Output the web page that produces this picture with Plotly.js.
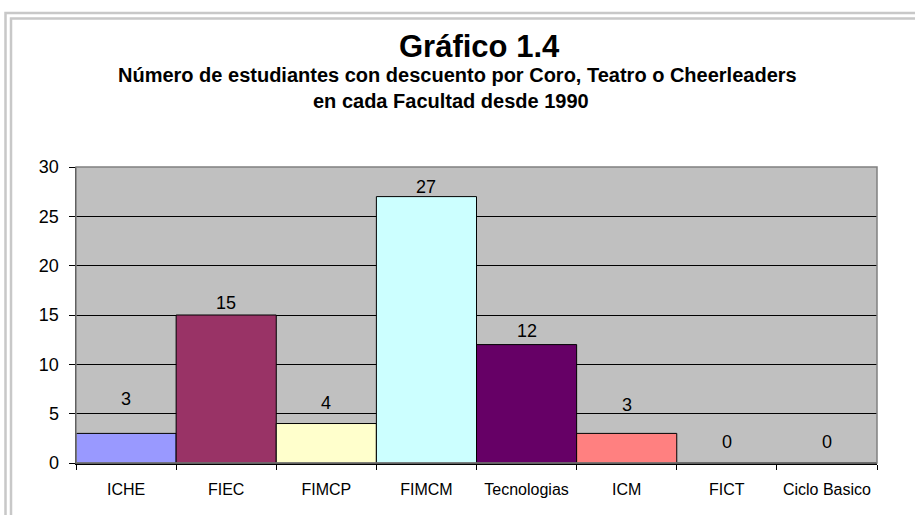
<!DOCTYPE html>
<html><head><meta charset="utf-8">
<script src="https://cdn.plot.ly/plotly-3.0.1.min.js"></script>
<style>html,body{margin:0;padding:0;background:#fff}#c{width:915px;height:515px}</style>
</head><body><div id="c"></div>
<script>
const categories = ["ICHE","FIEC","FIMCP","FIMCM","Tecnologias","ICM","FICT","Ciclo Basico"];
const values = [3,15,4,27,12,3,0,0];
const barColors = ["#9999ff","#993366","#ffffcc","#ccffff","#660066","#ff8080","#c0c0c0","#c0c0c0"];
const titleText = "Gráfico 1.4";
const subtitleLines = ["Número de estudiantes con descuento por Coro, Teatro o Cheerleaders","en cada Facultad desde 1990"];
// pixel lift of each value label above its bar top (styling)
const labelLift = [34,12,21,10,14,28,21,21];

const W=915,H=515,L=76,R=38,T=167,B=52;
const pw=W-L-R, ph=H-T-B;
const px=x=>(x-L)/pw, py=y=>(H-B-y)/ph;
const font="Liberation Sans, Arial, sans-serif";

const data=[{
  type:"bar", x:categories, y:values,
  marker:{color:barColors,line:{color:"#000",width:1}},
  hoverinfo:"none"
}];
const labelAnns=categories.map((c,i)=>({
  xref:"x",yref:"y",x:c,y:values[i],text:String(values[i]),showarrow:false,
  yanchor:"middle",yshift:labelLift[i],font:{family:font,size:18,color:"#000"}
}));
const layout={
  width:W,height:H,margin:{l:L,r:R,t:T,b:B},
  paper_bgcolor:"#fff",plot_bgcolor:"#c0c0c0",
  bargap:0,showlegend:false,
  font:{family:font,color:"#000"},
  xaxis:{type:"category",tickson:"boundaries",ticks:"outside",ticklen:5,tickcolor:"#000",
    showline:true,linecolor:"#000",linewidth:1.5,showgrid:false,ticklabelstandoff:11,tickangle:0,
    tickfont:{family:font,size:16,color:"#000"},fixedrange:true},
  yaxis:{range:[0,30],dtick:5,ticks:"outside",ticklen:6,tickcolor:"#000",
    showline:true,linecolor:"#000",linewidth:1.5,showgrid:true,gridcolor:"#000",gridwidth:1,
    ticklabelstandoff:6,
    zeroline:false,tickfont:{family:font,size:18,color:"#000"},fixedrange:true},
  shapes:[
    {type:"rect",xref:"paper",yref:"paper",x0:0,x1:1,y0:0,y1:1,line:{color:"#808080",width:1.5},layer:"above"},
    {type:"path",xref:"paper",yref:"paper",path:`M ${px(W+10)} ${py(13)} L ${px(5.5)} ${py(13)} L ${px(5.5)} ${py(H+10)}`,line:{color:"#c8c8c8",width:2.5}},
    {type:"path",xref:"paper",yref:"paper",path:`M ${px(W+10)} ${py(18.5)} L ${px(11)} ${py(18.5)} L ${px(11)} ${py(H+10)}`,line:{color:"#c8c8c8",width:2.5}}
  ],
  annotations:[
    {xref:"paper",yref:"paper",x:px(479),y:py(47),text:"<b>"+titleText+"</b>",showarrow:false,font:{family:font,size:31,color:"#000"},yanchor:"middle"},
    {xref:"paper",yref:"paper",x:px(457),y:py(75),text:"<b>"+subtitleLines[0]+"</b>",showarrow:false,font:{family:font,size:20,color:"#000"},yanchor:"middle"},
    {xref:"paper",yref:"paper",x:px(451),y:py(101),text:"<b>"+subtitleLines[1]+"</b>",showarrow:false,font:{family:font,size:20,color:"#000"},yanchor:"middle"}
  ].concat(labelAnns)
};
Plotly.newPlot("c",data,layout,{displayModeBar:false,staticPlot:true});
</script></body></html>
